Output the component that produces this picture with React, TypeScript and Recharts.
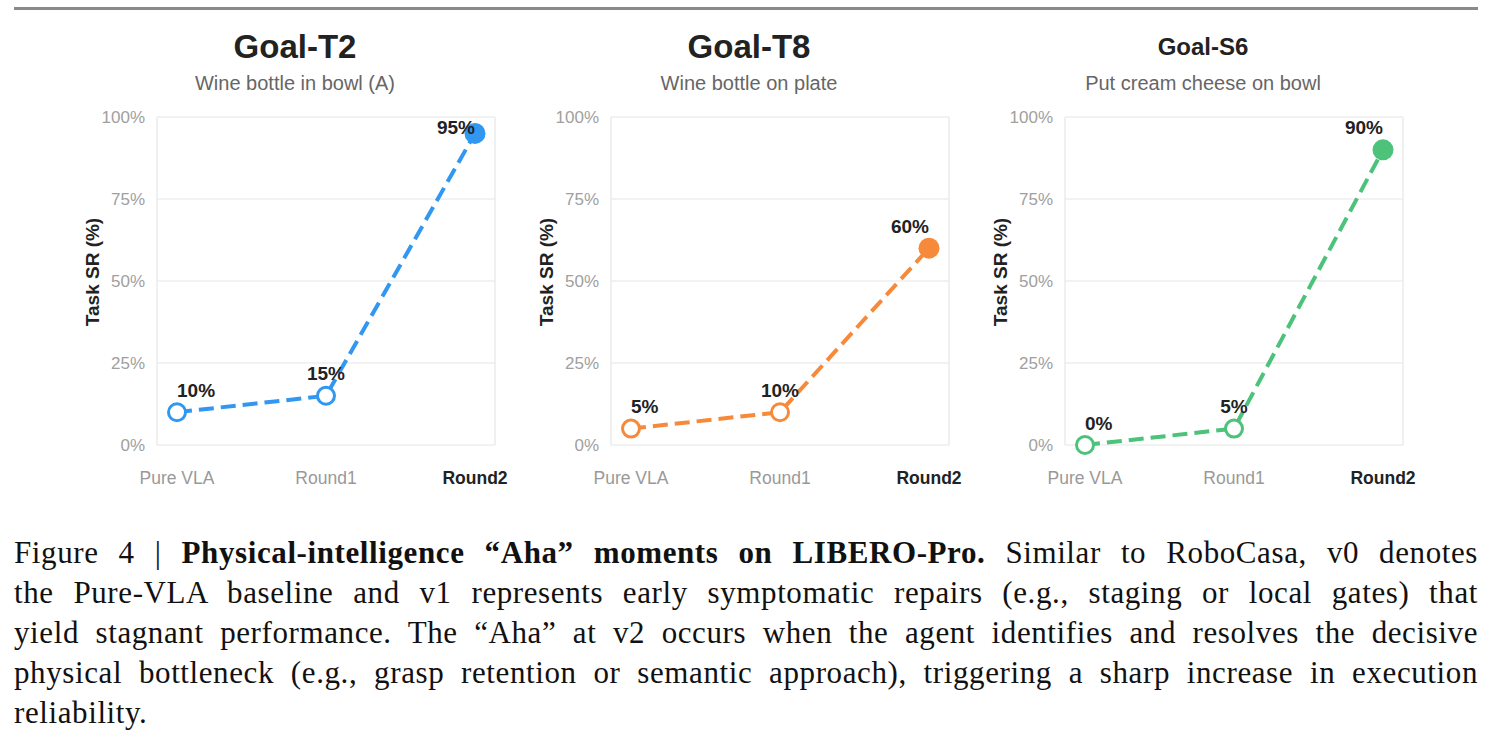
import React from 'react';
import { LineChart, Line, XAxis, YAxis, CartesianGrid, LabelList } from 'recharts';

const categories = ['Pure VLA', 'Round1', 'Round2'];
const goalT2 = [10, 15, 95];
const goalT8 = [5, 10, 60];
const goalS6 = [0, 5, 90];
const yTicks = [0, 25, 50, 75, 100];

const panels = [
  { title: 'Goal-T2', subtitle: 'Wine bottle in bowl (A)', values: goalT2, color: '#3197f0', titleSize: 33 },
  { title: 'Goal-T8', subtitle: 'Wine bottle on plate', values: goalT8, color: '#f78a3a', titleSize: 33 },
  { title: 'Goal-S6', subtitle: 'Put cream cheese on bowl', values: goalS6, color: '#4cc27a', titleSize: 24 },
];

const SANS = '"Liberation Sans", Arial, sans-serif';
const CHART_W = 440;
const CHART_H = 400;

const XTick = (props: any) => {
  const { x, y, payload, index } = props;
  const last = index === categories.length - 1;
  return (
    <text x={x} y={y} dy={31} textAnchor="middle" fontFamily={SANS} fontSize={17.5}
      fontWeight={last ? 700 : 400} fill={last ? '#222' : '#999'}>
      {payload.value}
    </text>
  );
};

const makeDot = (color: string) => (props: any) => {
  const { cx, cy, index } = props;
  if (index === categories.length - 1) {
    return <circle key={index} cx={cx} cy={cy} r={10.5} fill={color} />;
  }
  return <circle key={index} cx={cx} cy={cy} r={8.5} fill="#fff" stroke={color} strokeWidth={3} />;
};

const makeLabel = (values: number[]) => (props: any) => {
  const { x, y, index } = props;
  const anchor = index === 0 ? 'start' : index === categories.length - 1 ? 'end' : 'middle';
  return (
    <text key={index} x={x} y={y} dy={1} textAnchor={anchor} fontFamily={SANS} fontSize={19}
      fontWeight={700} fill="#222">
      {values[index]}%
    </text>
  );
};

const Panel = ({ panel, left }: { panel: typeof panels[number]; left: number }) => {
  const data = categories.map((c, i) => ({
    name: c,
    value: panel.values[i],
    labelAt: Math.min(panel.values[i] + 5, 95),
  }));
  return (
    <div style={{ position: 'absolute', left, top: 0, width: CHART_W }}>
      <div style={{ position: 'absolute', top: 47 - panel.titleSize * 0.58, width: CHART_W, textAlign: 'center',
        fontFamily: SANS, fontWeight: 700, fontSize: panel.titleSize, color: '#222', lineHeight: 1.15 }}>
        {panel.title}
      </div>
      <div style={{ position: 'absolute', top: 72, width: CHART_W, textAlign: 'center',
        fontFamily: SANS, fontSize: 20, color: '#666', lineHeight: 1.15 }}>
        {panel.subtitle}
      </div>
      <div style={{ position: 'absolute', top: 100 }}>
        <LineChart width={CHART_W} height={CHART_H} data={data}
          margin={{ top: 17, right: 20, bottom: 5, left: 0 }}>
          <CartesianGrid stroke="#e6e6e6" strokeWidth={1.2}
            verticalCoordinatesGenerator={({ offset }: any) => [offset.left, offset.left + offset.width]} />
          <XAxis dataKey="name" type="category" padding={{ left: 20, right: 20 }} height={50}
            axisLine={false} tickLine={false} tickMargin={2} tick={<XTick />} interval={0} />
          <YAxis domain={[0, 100]} ticks={yTicks} width={82} axisLine={false} tickLine={false}
            tickMargin={6} tickFormatter={(v: number) => `${v}%`}
            tick={{ fill: '#a0a0a0', fontSize: 17, fontFamily: SANS }}
            label={{ value: 'Task SR (%)', angle: -90, position: 'insideLeft', offset: 17, dy: -9,
              style: { textAnchor: 'middle', fontWeight: 700, fontSize: 19, fill: '#222', fontFamily: SANS } }} />
          <Line type="linear" dataKey="value" stroke={panel.color} strokeWidth={4} strokeDasharray="15 7"
            dot={makeDot(panel.color)} activeDot={false} isAnimationActive={false} />
          <Line type="linear" dataKey="labelAt" stroke="none" dot={false} activeDot={false}
            legendType="none" isAnimationActive={false}>
            <LabelList dataKey="labelAt" content={makeLabel(panel.values)} />
          </Line>
        </LineChart>
      </div>
    </div>
  );
};

const captionLines = [
  ['Figure 4 | ', 'Physical-intelligence “Aha” moments on LIBERO-Pro.', ' Similar to RoboCasa, v0 denotes'],
  ['the Pure-VLA baseline and v1 represents early symptomatic repairs (e.g., staging or local gates) that'],
  ['yield stagnant performance. The “Aha” at v2 occurs when the agent identifies and resolves the decisive'],
  ['physical bottleneck (e.g., grasp retention or semantic approach), triggering a sharp increase in execution'],
  ['reliability.'],
];

export default function App() {
  return (
    <div style={{ position: 'absolute', left: 0, top: 0, width: 1493, height: 741, background: '#fff', overflow: 'hidden' }}>
      <div style={{ position: 'absolute', left: 14, top: 7, width: 1464, height: 2.5, background: '#8a8a8a' }} />
      {panels.map((p, i) => (
        <Panel key={p.title} panel={p} left={75 + 454 * i} />
      ))}
      <div style={{ position: 'absolute', left: 14, top: 533, width: 1464, fontFamily: '"Liberation Serif", serif',
        fontSize: 31, letterSpacing: '0.6px', lineHeight: '40px', color: '#111' }}>
        {captionLines.map((parts, i) => {
          const last = i === captionLines.length - 1;
          return (
            <div key={i} style={{ textAlign: 'justify', textAlignLast: last ? 'left' : 'justify', whiteSpace: 'nowrap' }}>
              {parts.length === 3 ? (
                <>
                  {parts[0]}<b>{parts[1]}</b>{parts[2]}
                </>
              ) : parts[0]}
            </div>
          );
        })}
      </div>
    </div>
  );
}
